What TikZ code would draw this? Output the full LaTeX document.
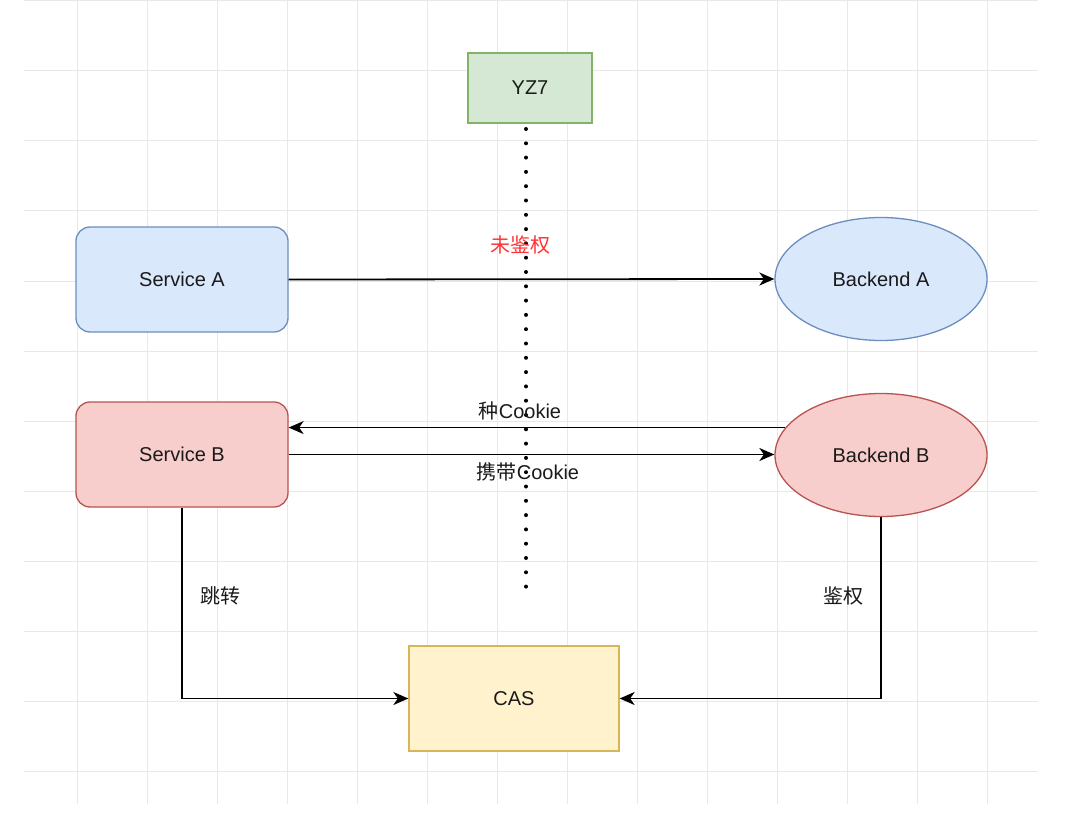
\documentclass[tikz,border=0pt]{standalone}
\usepackage{fontspec}
\setmainfont{Liberation Sans}
\newfontfamily\cjk{Noto Sans CJK SC}
\usetikzlibrary{arrows.meta,shapes.geometric}
\definecolor{gridc}{HTML}{E8E8E8}
\definecolor{greenF}{HTML}{D5E8D4}\definecolor{greenS}{HTML}{82B366}
\definecolor{blueF}{HTML}{DAE8FC}\definecolor{blueS}{HTML}{6C8EBF}
\definecolor{redF}{HTML}{F8CECC}\definecolor{redS}{HTML}{B85450}
\definecolor{yelF}{HTML}{FFF2CC}\definecolor{yelS}{HTML}{D6B656}
\definecolor{txt}{HTML}{1A1A1A}
\definecolor{redtxt}{HTML}{FF3333}
\tikzset{
  base/.style={line width=1.3pt, inner sep=0pt, text=txt, font=\fontsize{20}{24}\selectfont},
  rbox/.style={base, rectangle, rounded corners=14pt, minimum width=212pt, minimum height=105pt},
  sbox/.style={base, rectangle, minimum width=210pt, minimum height=105pt},
  ell/.style={base, ellipse, minimum width=212pt, minimum height=123pt},
  conn/.style={line width=1.8pt, black, -{Stealth[length=15pt,width=13pt,inset=4.5pt]}},
  lbl/.style={inner sep=0pt, text=txt, font=\fontsize{20}{24}\selectfont}
}
\begin{document}
\begin{tikzpicture}[x=1pt,y=-1pt]
\useasboundingbox (0,0) rectangle (1068,829);
\fill[white] (0,0) rectangle (1068,829);
% grid
\begin{scope}
\clip (24,0) rectangle (1038,804);
\foreach \x in {77,147,...,1037} \draw[gridc, line width=1pt] (\x,0) -- (\x,804);
\foreach \y in {1,71,...,800} \draw[gridc, line width=1pt] (24,\y) -- (1038,\y);
\end{scope}
% nodes
\node[sbox, fill=greenF, draw=greenS, minimum width=124pt, minimum height=70pt] (YZ) at (530,88) {YZ7};
\node[rbox, fill=blueF, draw=blueS] (SA) at (182,279.5) {Service A};
\node[ell, fill=blueF, draw=blueS] (BA) at (881,279) {Backend A};
\node[rbox, fill=redF, draw=redS] (SB) at (182,454.5) {Service B};
\node[ell, fill=redF, draw=redS] (BB) at (881,455) {Backend B};
\node[sbox, fill=yelF, draw=yelS] (CAS) at (514,698.5) {CAS};
% dotted line
\coordinate (dtop) at (526,129);
\coordinate (dbot) at (526,594);
\draw[line width=4pt, line cap=round, dash pattern=on 0pt off 14.3pt] (dtop) -- (dbot);
% connectors
\draw[conn] (SA.east) -- (BA.west);
\draw[conn] (BB.164) -- (BB.164 -| SB.east);
\draw[conn] (SB.east) -- (SB.east -| BB.west);
\draw[conn] (SB.south) |- (CAS.west);
\draw[conn] (BB.south) |- (CAS.east);
% labels
\node[lbl, text=redtxt] (l1) at (520,245) {\cjk 未鉴权};
\node[lbl] (l2) at (520,411) {{\cjk 种}Cookie};
\node[lbl] (l3) at (528,472) {{\cjk 携带}Cookie};
\node[lbl] (l4) at (220,596) {\cjk 跳转};
\node[lbl] (l5) at (843,596) {\cjk 鉴权};
\end{tikzpicture}
\end{document}
